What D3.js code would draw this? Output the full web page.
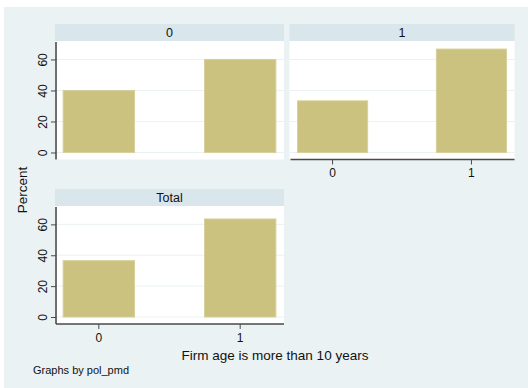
<!DOCTYPE html>
<html>
<head>
<meta charset="utf-8">
<script src="https://cdn.jsdelivr.net/npm/d3@7"></script>
<style>
  html, body { margin: 0; padding: 0; background: #ffffff; }
  svg { display: block; font-family: "Liberation Sans", Arial, Helvetica, sans-serif; }
</style>
</head>
<body>
<svg id="chart" width="528" height="388"></svg>
<script>
// Percent of firms by age group (older than 10 years), split by pol_pmd
const panelNames = ["0", "1", "Total"];
const categories = ["0", "1"];
const percentPanel0 = [40, 60];
const percentPanel1 = [33.3, 66.7];
const percentTotal = [36.5, 63.5];
const yTickValues = [0, 20, 40, 60];

const seriesByPanel = [percentPanel0, percentPanel1, percentTotal];

const colors = {
  outer: "#eaf2f3",
  strip: "#d9e6eb",
  plot: "#ffffff",
  grid: "#eaf2f3",
  bar: "#cac27e",
  barEdge: "#d7d09c",
  axis: "#4a4a4a",
  text: "#111111"
};

const svg = d3.select("#chart");

// graph region background
svg.append("rect")
  .attr("x", 4).attr("y", 7)
  .attr("width", 524).attr("height", 381)
  .attr("fill", colors.outer);

// panel boxes: left/right of plot region, top of strip, bottom of plot
const stripH = 17;
const layouts = [
  { x0: 55, x1: 284, top: 24, bottom: 159.5, showY: true, showX: false },
  { x0: 289.5, x1: 514.5, top: 24, bottom: 159.5, showY: false, showX: true },
  { x0: 55, x1: 284, top: 189, bottom: 324, showY: true, showX: true }
];

layouts.forEach((L, i) => {
  const g = svg.append("g");
  const plotTop = L.top + stripH;

  // header strip
  g.append("rect")
    .attr("x", L.x0).attr("y", L.top)
    .attr("width", L.x1 - L.x0).attr("height", stripH)
    .attr("fill", colors.strip);
  g.append("text")
    .attr("x", (L.x0 + L.x1) / 2).attr("y", L.top + stripH / 2 + 4.5)
    .attr("text-anchor", "middle")
    .attr("font-size", 12.5)
    .attr("fill", colors.text)
    .text(panelNames[i]);

  // plot region
  g.append("rect")
    .attr("x", L.x0).attr("y", plotTop)
    .attr("width", L.x1 - L.x0).attr("height", L.bottom - plotTop)
    .attr("fill", colors.plot);

  const y = d3.scaleLinear()
    .domain([-4.2, 71.9])
    .range([L.bottom - 0.5, plotTop]);
  // category positions in units of one category step
  const x = d3.scaleLinear()
    .domain([-0.31, 1.31])
    .range([L.x0, L.x1]);
  const cx = c => x(categories.indexOf(c));
  const bw = x(0.505) - x(0);

  // gridlines
  g.selectAll(".grid")
    .data(yTickValues)
    .join("line")
    .attr("x1", L.x0).attr("x2", L.x1)
    .attr("y1", d => y(d)).attr("y2", d => y(d))
    .attr("stroke", colors.grid)
    .attr("stroke-width", 1);

  // bars
  g.selectAll(".bar")
    .data(seriesByPanel[i].map((v, k) => ({ c: categories[k], v })))
    .join("rect")
    .attr("x", d => cx(d.c) - bw / 2)
    .attr("y", d => y(d.v))
    .attr("width", bw)
    .attr("height", d => y(0) - y(d.v))
    .attr("fill", colors.bar)
    .attr("stroke", colors.barEdge)
    .attr("stroke-width", 1);

  // y axis
  if (L.showY) {
    const ya = g.append("g")
      .attr("transform", `translate(${L.x0 + 1},0)`)
      .call(d3.axisLeft(y).tickValues(yTickValues).tickSize(5).tickPadding(3).tickFormat(d3.format("d")));
    ya.select(".domain").remove();
    ya.append("line")
      .attr("x1", 0).attr("x2", 0)
      .attr("y1", plotTop + 1).attr("y2", L.bottom)
      .attr("stroke", colors.axis).attr("stroke-width", 1.6);
    ya.selectAll(".tick line").attr("stroke", colors.axis).attr("stroke-width", 1);
    ya.selectAll(".tick text")
      .attr("font-size", 12)
      .attr("fill", colors.text)
      .attr("font-family", "Liberation Sans, Arial, sans-serif")
      .attr("transform", "rotate(-90)")
      .attr("x", 0).attr("y", -9)
      .attr("dy", 0)
      .attr("text-anchor", "middle");
  }

  // x axis
  if (L.showX) {
    const xa = g.append("g")
      .attr("transform", `translate(0,${L.bottom})`);
    xa.append("line")
      .attr("x1", L.x0 + 1).attr("x2", L.x1)
      .attr("y1", 0).attr("y2", 0)
      .attr("stroke", colors.axis).attr("stroke-width", 1.6);
    const ticks = xa.selectAll(".xt").data(categories).join("g")
      .attr("transform", d => `translate(${cx(d)},0)`);
    ticks.append("line")
      .attr("y1", 0).attr("y2", 5)
      .attr("stroke", colors.axis).attr("stroke-width", 1);
    ticks.append("text")
      .attr("y", 17.5)
      .attr("text-anchor", "middle")
      .attr("font-size", 12)
      .attr("fill", colors.text)
      .text(d => d);
  }
});

// axis titles
svg.append("text")
  .attr("transform", "translate(27,190) rotate(-90)")
  .attr("text-anchor", "middle")
  .attr("font-size", 13.5)
  .attr("fill", colors.text)
  .text("Percent");

svg.append("text")
  .attr("x", 275).attr("y", 359.5)
  .attr("text-anchor", "middle")
  .attr("font-size", 13.5)
  .attr("fill", colors.text)
  .text("Firm age is more than 10 years");

svg.append("text")
  .attr("x", 33).attr("y", 373.5)
  .attr("font-size", 11)
  .attr("fill", colors.text)
  .text("Graphs by pol_pmd");
</script>
</body>
</html>
